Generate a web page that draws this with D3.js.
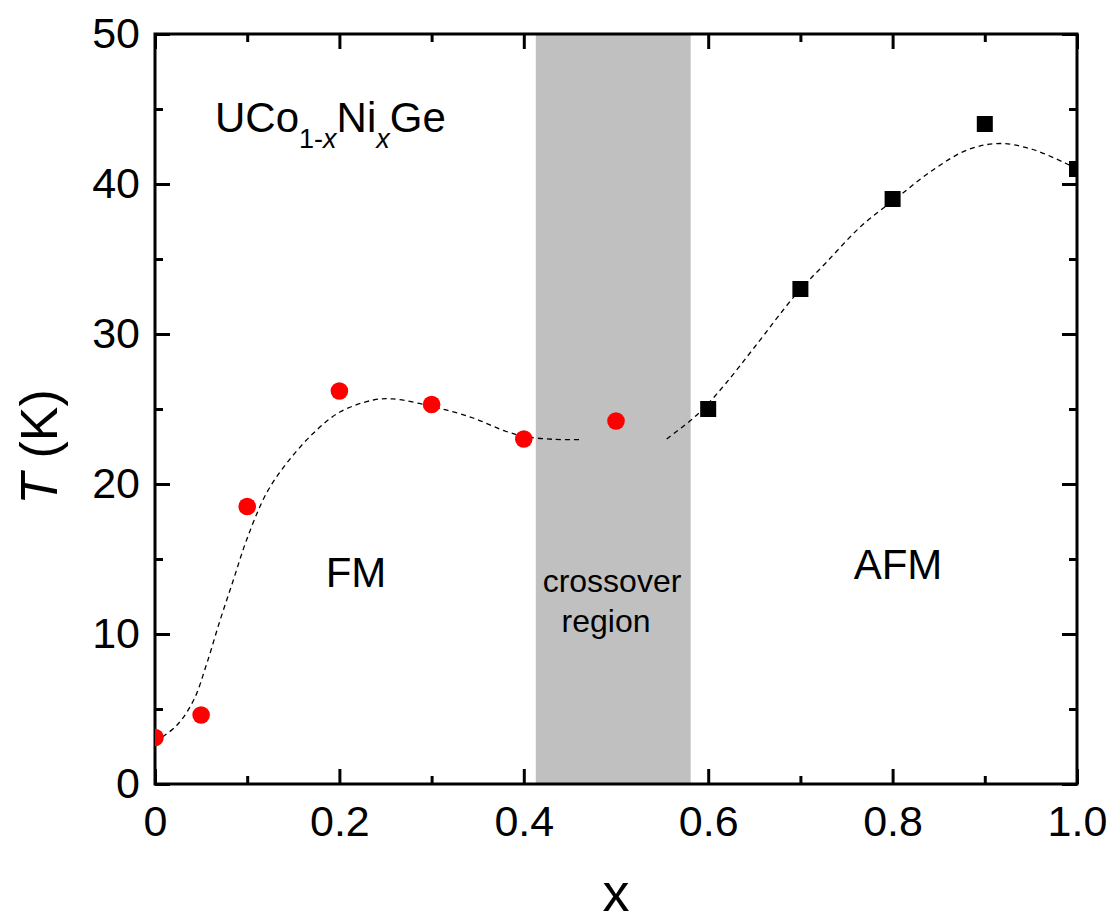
<!DOCTYPE html>
<html>
<head>
<meta charset="utf-8">
<script src="https://cdn.jsdelivr.net/npm/d3@7"></script>
<style>
  body { margin: 0; background: #fff; }
  text { font-family: Arial, "Liberation Sans", sans-serif; fill: #000; }
</style>
</head>
<body>
<div id="chart"></div>
<script>
// measured points (FM, red circles)
const fmX = [0, 0.05, 0.1, 0.2, 0.3, 0.4, 0.5];
const fmT = [3.1, 4.6, 18.5, 26.2, 25.3, 23.0, 24.2];

// measured points (AFM, black squares)
const afmX = [0.6, 0.7, 0.8, 0.9, 1.0];
const afmT = [25, 33, 39, 44, 41];

// dashed guide curves
const guideFmX = [0, 0.0235, 0.042, 0.056, 0.0705, 0.085, 0.0995, 0.121, 0.143, 0.172, 0.2006, 0.237, 0.258, 0.302, 0.345, 0.381, 0.403, 0.432, 0.4616];
const guideFmT = [2.8, 3.9, 5.6, 8.0, 10.9, 13.6, 16.3, 19.4, 21.4, 23.4, 24.8, 25.6, 25.67, 25.15, 24.4, 23.5, 23.15, 22.98, 22.96];
const guideAfmX = [0.555, 0.584, 0.599, 0.619, 0.650, 0.696, 0.727, 0.766, 0.805, 0.843, 0.882, 0.917, 0.952, 0.987, 1.0];
const guideAfmT = [23.0, 24.4, 25.3, 26.7, 29.1, 32.7, 34.7, 37.2, 39.1, 40.9, 42.3, 42.7, 42.3, 41.4, 41.0];

// crossover band limits (x)
const crossover = [0.413, 0.581];

// ticks
const xMajor = [0, 0.2, 0.4, 0.6, 0.8, 1.0];
const xMinor = [0.1, 0.3, 0.5, 0.7, 0.9];
const yMajor = [0, 10, 20, 30, 40, 50];
const yMinor = [5, 15, 25, 35, 45];

const margin = { top: 34, right: 35, bottom: 139, left: 155 };
const width = 922;
const height = 750;

const svg = d3.select("#chart")
  .append("svg")
  .attr("width", width + margin.left + margin.right)
  .attr("height", height + margin.top + margin.bottom)
  .append("g")
  .attr("transform", `translate(${margin.left}, ${margin.top})`);

const x = d3.scaleLinear().domain([0, 1]).range([0, width]);
const y = d3.scaleLinear().domain([0, 50]).range([height, 0]);

svg.append("defs").append("clipPath")
  .attr("id", "plotClip")
  .append("rect")
  .attr("width", width)
  .attr("height", height);

// tick marks on all four sides, pointing inward
function styleAxis(g) {
  g.select(".domain").remove();
  g.selectAll(".tick line").attr("stroke", "#000").attr("stroke-width", 3);
  g.selectAll("text").style("font-size", "43px").attr("fill", "#000");
}

svg.append("g")
  .attr("transform", `translate(0, ${height})`)
  .call(d3.axisBottom(x).tickValues(xMajor).tickSize(-15).tickPadding(21)
    .tickFormat(d => d === 0 ? "0" : d3.format(".1f")(d)))
  .call(styleAxis);
svg.append("g")
  .attr("transform", `translate(0, ${height})`)
  .call(d3.axisBottom(x).tickValues(xMinor).tickSize(-8).tickFormat(""))
  .call(styleAxis);
svg.append("g")
  .call(d3.axisTop(x).tickValues(xMajor).tickSize(-15).tickFormat(""))
  .call(styleAxis);
svg.append("g")
  .call(d3.axisTop(x).tickValues(xMinor).tickSize(-8).tickFormat(""))
  .call(styleAxis);

svg.append("g")
  .call(d3.axisLeft(y).tickValues(yMajor).tickSize(-15).tickPadding(15).tickFormat(d3.format("d")))
  .call(styleAxis);
svg.append("g")
  .call(d3.axisLeft(y).tickValues(yMinor).tickSize(-8).tickFormat(""))
  .call(styleAxis);
svg.append("g")
  .attr("transform", `translate(${width}, 0)`)
  .call(d3.axisRight(y).tickValues(yMajor).tickSize(-15).tickFormat(""))
  .call(styleAxis);
svg.append("g")
  .attr("transform", `translate(${width}, 0)`)
  .call(d3.axisRight(y).tickValues(yMinor).tickSize(-8).tickFormat(""))
  .call(styleAxis);

// crossover region
svg.append("rect")
  .attr("x", x(crossover[0]))
  .attr("y", 0)
  .attr("width", x(crossover[1]) - x(crossover[0]))
  .attr("height", height)
  .attr("fill", "#c0c0c0");

// frame
svg.append("rect")
  .attr("width", width)
  .attr("height", height)
  .attr("fill", "none")
  .attr("stroke", "#000")
  .attr("stroke-width", 3);

// dashed guide curves
const line = d3.line()
  .x(d => x(d[0]))
  .y(d => y(d[1]))
  .curve(d3.curveCatmullRom.alpha(0.5));

[[guideFmX, guideFmT], [guideAfmX, guideAfmT]].forEach(([xs, ts]) => {
  svg.append("path")
    .datum(xs.map((v, i) => [v, ts[i]]))
    .attr("d", line)
    .attr("fill", "none")
    .attr("stroke", "#000")
    .attr("stroke-width", 1.3)
    .attr("stroke-dasharray", "5,4");
});

const points = svg.append("g").attr("clip-path", "url(#plotClip)");

points.selectAll(".fm")
  .data(fmX.map((v, i) => ({ x: v, t: fmT[i] })))
  .enter()
  .append("circle")
  .attr("class", "fm")
  .attr("cx", d => x(d.x))
  .attr("cy", d => y(d.t))
  .attr("r", 8.8)
  .attr("fill", "#ff0000");

const sq = 16;
points.selectAll(".afm")
  .data(afmX.map((v, i) => ({ x: v, t: afmT[i] })))
  .enter()
  .append("rect")
  .attr("class", "afm")
  .attr("x", d => x(d.x) - sq / 2)
  .attr("y", d => y(d.t) - sq / 2)
  .attr("width", sq)
  .attr("height", sq)
  .attr("fill", "#000");

// annotations
const formula = svg.append("text")
  .attr("x", 60)
  .attr("y", 98)
  .style("font-size", "42px");
formula.append("tspan").text("UCo");
formula.append("tspan").attr("dy", 16).style("font-size", "27px").text("1-");
formula.append("tspan").style("font-size", "27px").style("font-style", "italic").text("x");
formula.append("tspan").attr("dy", -16).text("Ni");
formula.append("tspan").attr("dy", 16).style("font-size", "27px").style("font-style", "italic").text("x");
formula.append("tspan").attr("dy", -16).text("Ge");

svg.append("text")
  .attr("x", 356 - margin.left)
  .attr("y", 587 - margin.top)
  .attr("text-anchor", "middle")
  .style("font-size", "42px")
  .text("FM");

svg.append("text")
  .attr("x", 898 - margin.left)
  .attr("y", 579 - margin.top)
  .attr("text-anchor", "middle")
  .style("font-size", "42px")
  .text("AFM");

svg.append("text")
  .attr("x", 612 - margin.left)
  .attr("y", 592 - margin.top)
  .attr("text-anchor", "middle")
  .style("font-size", "32px")
  .text("crossover");

svg.append("text")
  .attr("x", 606 - margin.left)
  .attr("y", 632 - margin.top)
  .attr("text-anchor", "middle")
  .style("font-size", "32px")
  .text("region");

// axis titles
const yTitle = svg.append("text")
  .attr("transform", `translate(${57 - margin.left}, ${447 - margin.top}) rotate(-90)`)
  .attr("text-anchor", "middle")
  .style("font-size", "52px");
yTitle.append("tspan").style("font-style", "italic").text("T");
yTitle.append("tspan").text(" (K)");

svg.append("text")
  .attr("x", width / 2)
  .attr("y", 911 - margin.top)
  .attr("text-anchor", "middle")
  .style("font-size", "54px")
  .text("x");
</script>
</body>
</html>
